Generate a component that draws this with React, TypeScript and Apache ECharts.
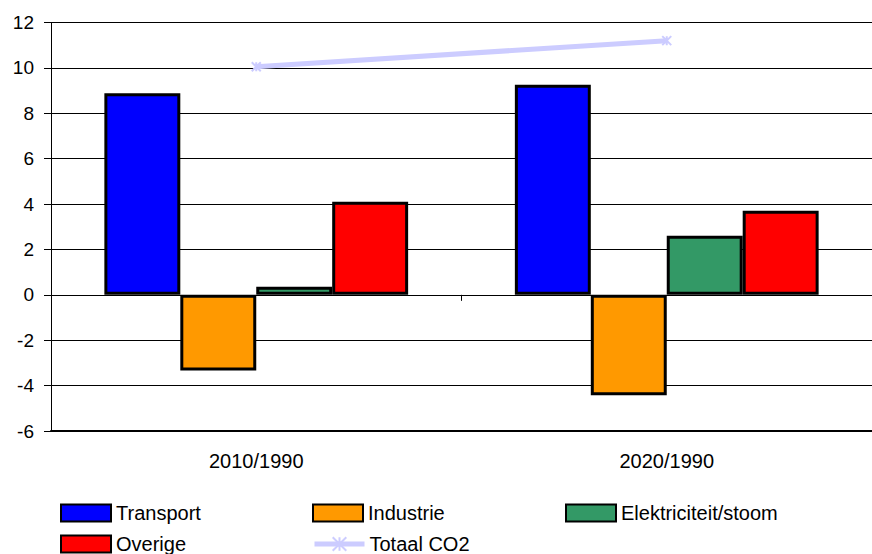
import React, { useEffect, useRef } from "react";
import * as echarts from "echarts";

// Category labels and series values (change relative to 1990)
const categories = ["2010/1990", "2020/1990"];
const transport = [8.88, 9.26];
const industrie = [-3.33, -4.43];
const elektriciteit = [0.36, 2.6];
const overige = [4.1, 3.7];
const totaalCO2 = [10.05, 11.2];

const yMin = -6;
const yMax = 12;
const yStep = 2;

const FONT = "'Liberation Sans', Arial, Helvetica, sans-serif";

export default function App() {
  const ref = useRef<HTMLDivElement>(null);

  useEffect(() => {
    if (!ref.current) return;
    const chart = echarts.init(ref.current, null, { renderer: "svg" });

    const barStyle = (color: string) => ({
      color,
      borderColor: "#000000",
      borderWidth: 3,
    });

    const legendBase = {
      orient: "horizontal" as const,
      padding: 0,
      itemWidth: 50,
      itemHeight: 17,
      textStyle: { fontFamily: FONT, fontSize: 20, lineHeight: 17, color: "#000000" },
    };

    const barCommon = {
      type: "bar" as const,
      xAxisIndex: 0,
      barGap: "0%",
      barCategoryGap: "26%",
    };

    chart.setOption({
      animation: false,
      backgroundColor: "#ffffff",
      textStyle: { fontFamily: FONT },
      grid: { left: 51, width: 823, top: 22.5, bottom: 123, containLabel: false },
      xAxis: [
        {
          type: "category",
          data: categories,
          boundaryGap: true,
          axisLine: { onZero: true, lineStyle: { color: "#000000", width: 1 } },
          axisTick: { show: true, alignWithLabel: false, length: 6, lineStyle: { color: "#000000" } },
          axisLabel: { show: false },
          splitLine: { show: false },
        },
        {
          type: "category",
          data: categories,
          position: "bottom",
          boundaryGap: true,
          axisLine: { onZero: false, lineStyle: { color: "#000000", width: 2 } },
          axisTick: { show: false },
          axisLabel: { fontFamily: FONT, fontSize: 20, color: "#000000", margin: 20 },
          splitLine: { show: false },
        },
      ],
      yAxis: {
        type: "value",
        min: yMin,
        max: yMax,
        interval: yStep,
        axisLine: { show: true, lineStyle: { color: "#000000", width: 1 } },
        axisTick: { show: true, length: 7, lineStyle: { color: "#000000" } },
        axisLabel: { fontFamily: FONT, fontSize: 19, color: "#000000", margin: 17 },
        splitLine: { show: true, lineStyle: { color: "#000000", width: 1 } },
      },
      legend: [
        { ...legendBase, left: 60, top: 503, data: [{ name: "Transport", icon: "rect" }] },
        { ...legendBase, left: 312, top: 503, data: [{ name: "Industrie", icon: "rect" }] },
        { ...legendBase, left: 565, top: 503, data: [{ name: "Elektriciteit/stoom", icon: "rect" }] },
        { ...legendBase, left: 60, top: 534, data: [{ name: "Overige", icon: "rect" }] },
        {
          ...legendBase,
          left: 312,
          top: 534,
          data: [{ name: "Totaal CO2" }],
          lineStyle: { color: "#CCCCFF", width: 5 },
        },
      ],
      series: [
        { ...barCommon, name: "Transport", data: transport, itemStyle: barStyle("#0000FF") },
        { ...barCommon, name: "Industrie", data: industrie, itemStyle: barStyle("#FF9900") },
        { ...barCommon, name: "Elektriciteit/stoom", data: elektriciteit, itemStyle: barStyle("#339966") },
        { ...barCommon, name: "Overige", data: overige, itemStyle: barStyle("#FF0000") },
        {
          name: "Totaal CO2",
          type: "line",
          xAxisIndex: 0,
          data: totaalCO2,
          z: 5,
          lineStyle: { color: "#CCCCFF", width: 5 },
          symbol: "path://M0,0L10,10M10,0L0,10M5,0L5,10",
          symbolSize: 9,
          showSymbol: true,
          itemStyle: { color: "#CCCCFF", borderColor: "#CCCCFF", borderWidth: 2 },
        },
      ],
    });

    return () => chart.dispose();
  }, []);

  return (
    <div
      ref={ref}
      style={{ position: "absolute", left: 0, top: 0, width: 872, height: 554 }}
    />
  );
}
